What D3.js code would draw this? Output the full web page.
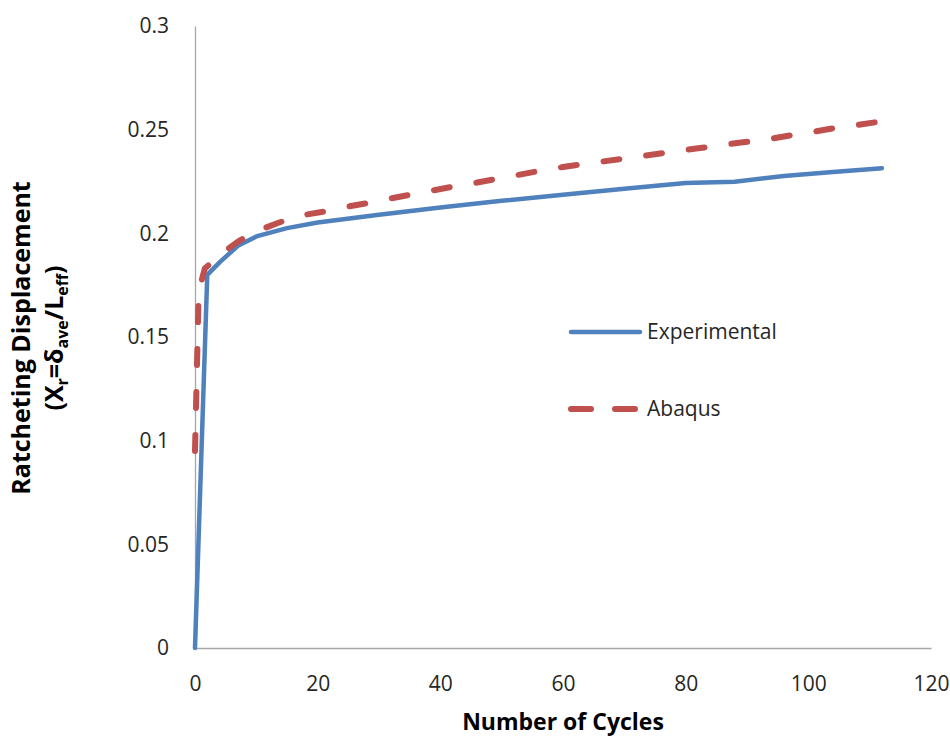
<!DOCTYPE html>
<html>
<head>
<meta charset="utf-8">
<script src="https://cdn.jsdelivr.net/npm/d3@7"></script>
<style>
  body { margin: 0; background: #fff; }
  text { font-family: "Open Sans", Lato, sans-serif; }
</style>
</head>
<body>
<svg id="chart" width="950" height="740"></svg>
<script>
// cycles / ratcheting displacement
const expCycles = [0, 2, 4, 7, 10, 15, 20, 30, 40, 50, 60, 70, 80, 88, 96, 104, 112]
const expValues = [0, 0.18, 0.186, 0.194, 0.1985, 0.2025, 0.2052, 0.209, 0.2125, 0.2157, 0.2186, 0.2215, 0.2243, 0.2249, 0.2277, 0.2296, 0.2314]

const abqCycles = [0, 0.6, 1.6, 4, 7, 10, 13.5, 17, 21, 24, 28, 31, 42, 46, 56, 60, 71, 78, 82, 85, 89, 93, 96, 100, 104, 107, 111]
const abqValues = [0.095, 0.172, 0.183, 0.1895, 0.196, 0.201, 0.205, 0.2085, 0.2105, 0.2125, 0.2145, 0.2163, 0.2225, 0.2245, 0.23, 0.232, 0.2365, 0.2394, 0.241, 0.2422, 0.2438, 0.2451, 0.2467, 0.2486, 0.2506, 0.2518, 0.2536]

const xTicks = [0, 20, 40, 60, 80, 100, 120]
const yTicks = [0, 0.05, 0.1, 0.15, 0.2, 0.25, 0.3]

const seriesNames = ['Experimental', 'Abaqus']
const colours = ['#4f81bd', '#c0504d']

const svg = d3.select('#chart')

const margin = { top: 26, right: 19, bottom: 92, left: 195 }
const width = 950 - margin.left - margin.right
const height = 740 - margin.top - margin.bottom

const xScale = d3.scaleLinear().domain([0, 120]).range([margin.left, margin.left + width])
const yScale = d3.scaleLinear().domain([0, 0.3]).range([margin.top + height, margin.top])

// axes
const bottomAxis = d3.axisBottom(xScale).tickValues(xTicks).tickSize(0).tickPadding(28)
svg.append('g')
  .attr('transform', `translate(0, ${margin.top + height})`)
  .call(bottomAxis)
  .call(g => g.select('.domain').attr('stroke', '#a6a6a6').attr('stroke-width', 1.3))
  .call(g => g.selectAll('text').attr('font-size', 21).attr('fill', '#262626').attr('font-family', 'Open Sans'))

const leftAxis = d3.axisLeft(yScale).tickValues(yTicks).tickSize(0).tickPadding(26)
  .tickFormat(d => d === 0 ? '0' : String(+d.toFixed(2)))
svg.append('g')
  .attr('transform', `translate(${margin.left}, 0)`)
  .call(leftAxis)
  .call(g => g.select('.domain').attr('stroke', '#a6a6a6').attr('stroke-width', 1.3))
  .call(g => g.selectAll('text').attr('font-size', 21).attr('fill', '#262626').attr('font-family', 'Open Sans'))

// lines
const line = d3.line().x(d => xScale(d[0])).y(d => yScale(d[1]))

const expData = expCycles.map((c, i) => [c, expValues[i]])
const abqData = abqCycles.map((c, i) => [c, abqValues[i]])

svg.append('path')
  .datum(expData)
  .attr('d', line)
  .attr('fill', 'none')
  .attr('stroke', colours[0])
  .attr('stroke-width', 4.5)
  .attr('stroke-linejoin', 'round')
  .attr('stroke-linecap', 'round')

svg.append('path')
  .datum(abqData)
  .attr('d', line)
  .attr('fill', 'none')
  .attr('stroke', colours[1])
  .attr('stroke-width', 6)
  .attr('stroke-dasharray', '16,27')
  .attr('stroke-linecap', 'round')
  .attr('stroke-linejoin', 'round')

// legend
const legend = svg.append('g')
const legendY = [332, 409]
legend.selectAll('line')
  .data(seriesNames)
  .enter()
  .append('line')
  .attr('x1', 571)
  .attr('x2', (d, i) => i === 0 ? 640 : 637)
  .attr('y1', (d, i) => legendY[i])
  .attr('y2', (d, i) => legendY[i])
  .attr('stroke', (d, i) => colours[i])
  .attr('stroke-width', (d, i) => i === 0 ? 4.5 : 6)
  .attr('stroke-linecap', 'round')
  .attr('stroke-dasharray', (d, i) => i === 0 ? null : '20,24')

legend.selectAll('text')
  .data(seriesNames)
  .enter()
  .append('text')
  .attr('x', 647)
  .attr('y', (d, i) => legendY[i])
  .attr('dy', '0.35em')
  .attr('font-size', 21)
  .attr('fill', '#262626')
  .text(d => d)

// axis titles
svg.append('text')
  .attr('x', xScale(60))
  .attr('y', 730)
  .attr('text-anchor', 'middle')
  .attr('font-size', 23)
  .attr('font-weight', 'bold')
  .attr('fill', '#000')
  .text('Number of Cycles')

const yTitle = svg.append('text')
  .attr('transform', 'translate(0, 338) rotate(-90)')
  .attr('text-anchor', 'middle')
  .attr('font-size', 25)
  .attr('font-weight', 'bold')
  .attr('fill', '#000')

yTitle.append('tspan').attr('x', 0).attr('y', 30).text('Ratcheting Displacement')

const line2 = yTitle.append('tspan').attr('x', 0).attr('y', 63)
line2.append('tspan').text('(X')
line2.append('tspan').attr('font-size', 16).attr('dy', 5).text('r')
line2.append('tspan').attr('dy', -5).text('=δ')
line2.append('tspan').attr('font-size', 16).attr('dy', 5).text('ave')
line2.append('tspan').attr('dy', -5).text('/L')
line2.append('tspan').attr('font-size', 16).attr('dy', 5).text('eff')
line2.append('tspan').attr('dy', -5).text(')')
</script>
</body>
</html>
